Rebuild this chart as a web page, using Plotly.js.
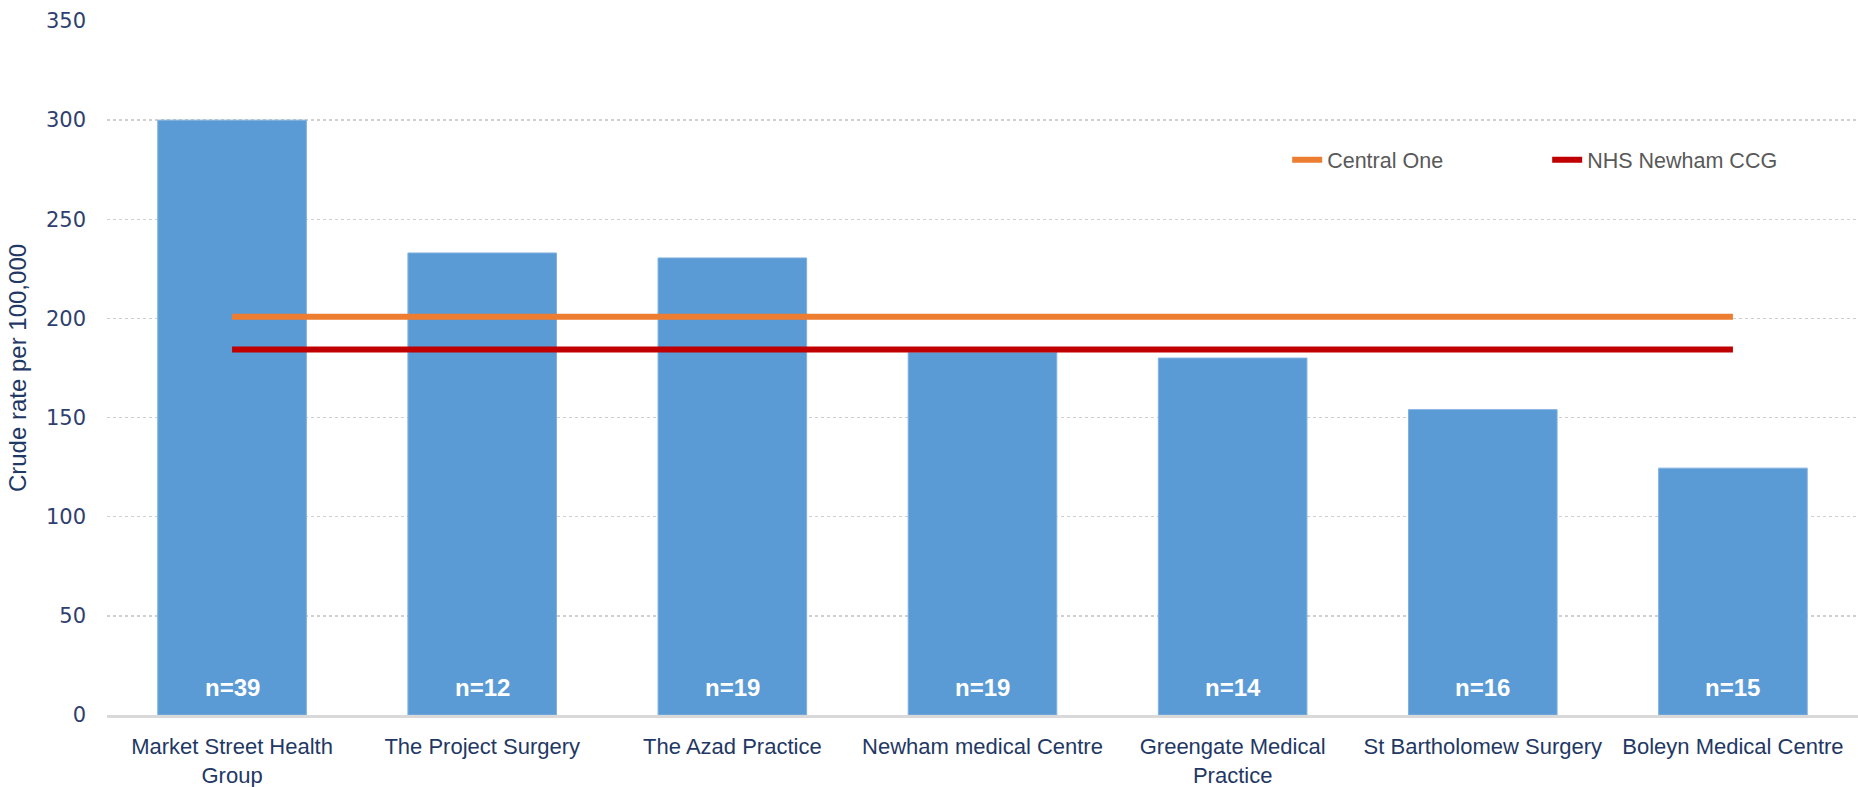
<!DOCTYPE html>
<html>
<head>
<meta charset="utf-8">
<script src="https://cdn.plot.ly/plotly-3.0.1.min.js"></script>
<style>html,body{margin:0;padding:0;background:#fff;}#chart{width:1858px;height:787px;}</style>
</head>
<body>
<div id="chart"></div>
<script>
const practices = [
  "Market Street Health<br>Group",
  "The Project Surgery",
  "The Azad Practice",
  "Newham medical Centre",
  "Greengate Medical<br>Practice",
  "St Bartholomew Surgery",
  "Boleyn Medical Centre"
];
const crudeRates = [300, 233, 230.5, 183, 180, 154, 124.5];
const counts = ["n=39", "n=12", "n=19", "n=19", "n=14", "n=16", "n=15"];
const centralOne = [200.8, 200.8, 200.8, 200.8, 200.8, 200.8, 200.8];
const newhamCCG = [184.3, 184.3, 184.3, 184.3, 184.3, 184.3, 184.3];
const yTicks = [0, 50, 100, 150, 200, 250, 300, 350];

const navy = "#1f3864";
const labelFont = "'Liberation Sans', Arial, sans-serif";

const traces = [
  {
    type: "bar", x: practices, y: crudeRates,
    marker: {color: "#5b9bd5", line: {color: "#7fb0e0", width: 1}},
    showlegend: false, hoverinfo: "skip"
  },
  {
    type: "scatter", mode: "lines", name: "Central One",
    x: practices, y: centralOne,
    line: {color: "#ed7d31", width: 6}
  },
  {
    type: "scatter", mode: "lines", name: "NHS Newham CCG",
    x: practices, y: newhamCCG,
    line: {color: "#c00000", width: 6}
  }
];

const annotations = practices.map((p, i) => ({
  x: p, y: 0, xref: "x", yref: "y",
  text: "<b>" + counts[i] + "</b>",
  showarrow: false, yanchor: "bottom", yshift: 12,
  font: {family: labelFont, size: 24, color: "#ffffff"}
}));

const layout = {
  width: 1858, height: 787,
  margin: {l: 107, r: 0, t: 21, b: 72},
  paper_bgcolor: "#ffffff", plot_bgcolor: "#ffffff",
  bargap: 0.406,
  showlegend: true,
  legend: {
    orientation: "h", x: 0.674, xanchor: "left", y: 0.80, yanchor: "middle",
    font: {family: labelFont, size: 21.5, color: "#595959"},
    entrywidth: 215, traceorder: "normal", bgcolor: "rgba(0,0,0,0)"
  },
  xaxis: {
    type: "category",
    showgrid: false, zeroline: false,
    showline: true, linecolor: "#d9d9d9", linewidth: 2.5,
    ticks: "", ticklabelstandoff: 10,
    tickfont: {family: labelFont, size: 22, color: navy}
  },
  yaxis: {
    range: [0, 350], tickvals: yTicks, ticktext: yTicks.map(String),
    showgrid: true, gridcolor: "#d0d0d0", gridwidth: 1.5, griddash: "dot",
    zeroline: false, showline: false, ticks: "", ticklabelstandoff: 20,
    tickfont: {family: "'DejaVu Sans', Verdana, sans-serif", size: 21, color: "#2f3f6f"},
    title: {text: "Crude rate per 100,000", standoff: 12,
            font: {family: labelFont, size: 24, color: navy}}
  },
  annotations: annotations
};

Plotly.newPlot("chart", traces, layout, {displayModeBar: false, staticPlot: true});
</script>
</body>
</html>
